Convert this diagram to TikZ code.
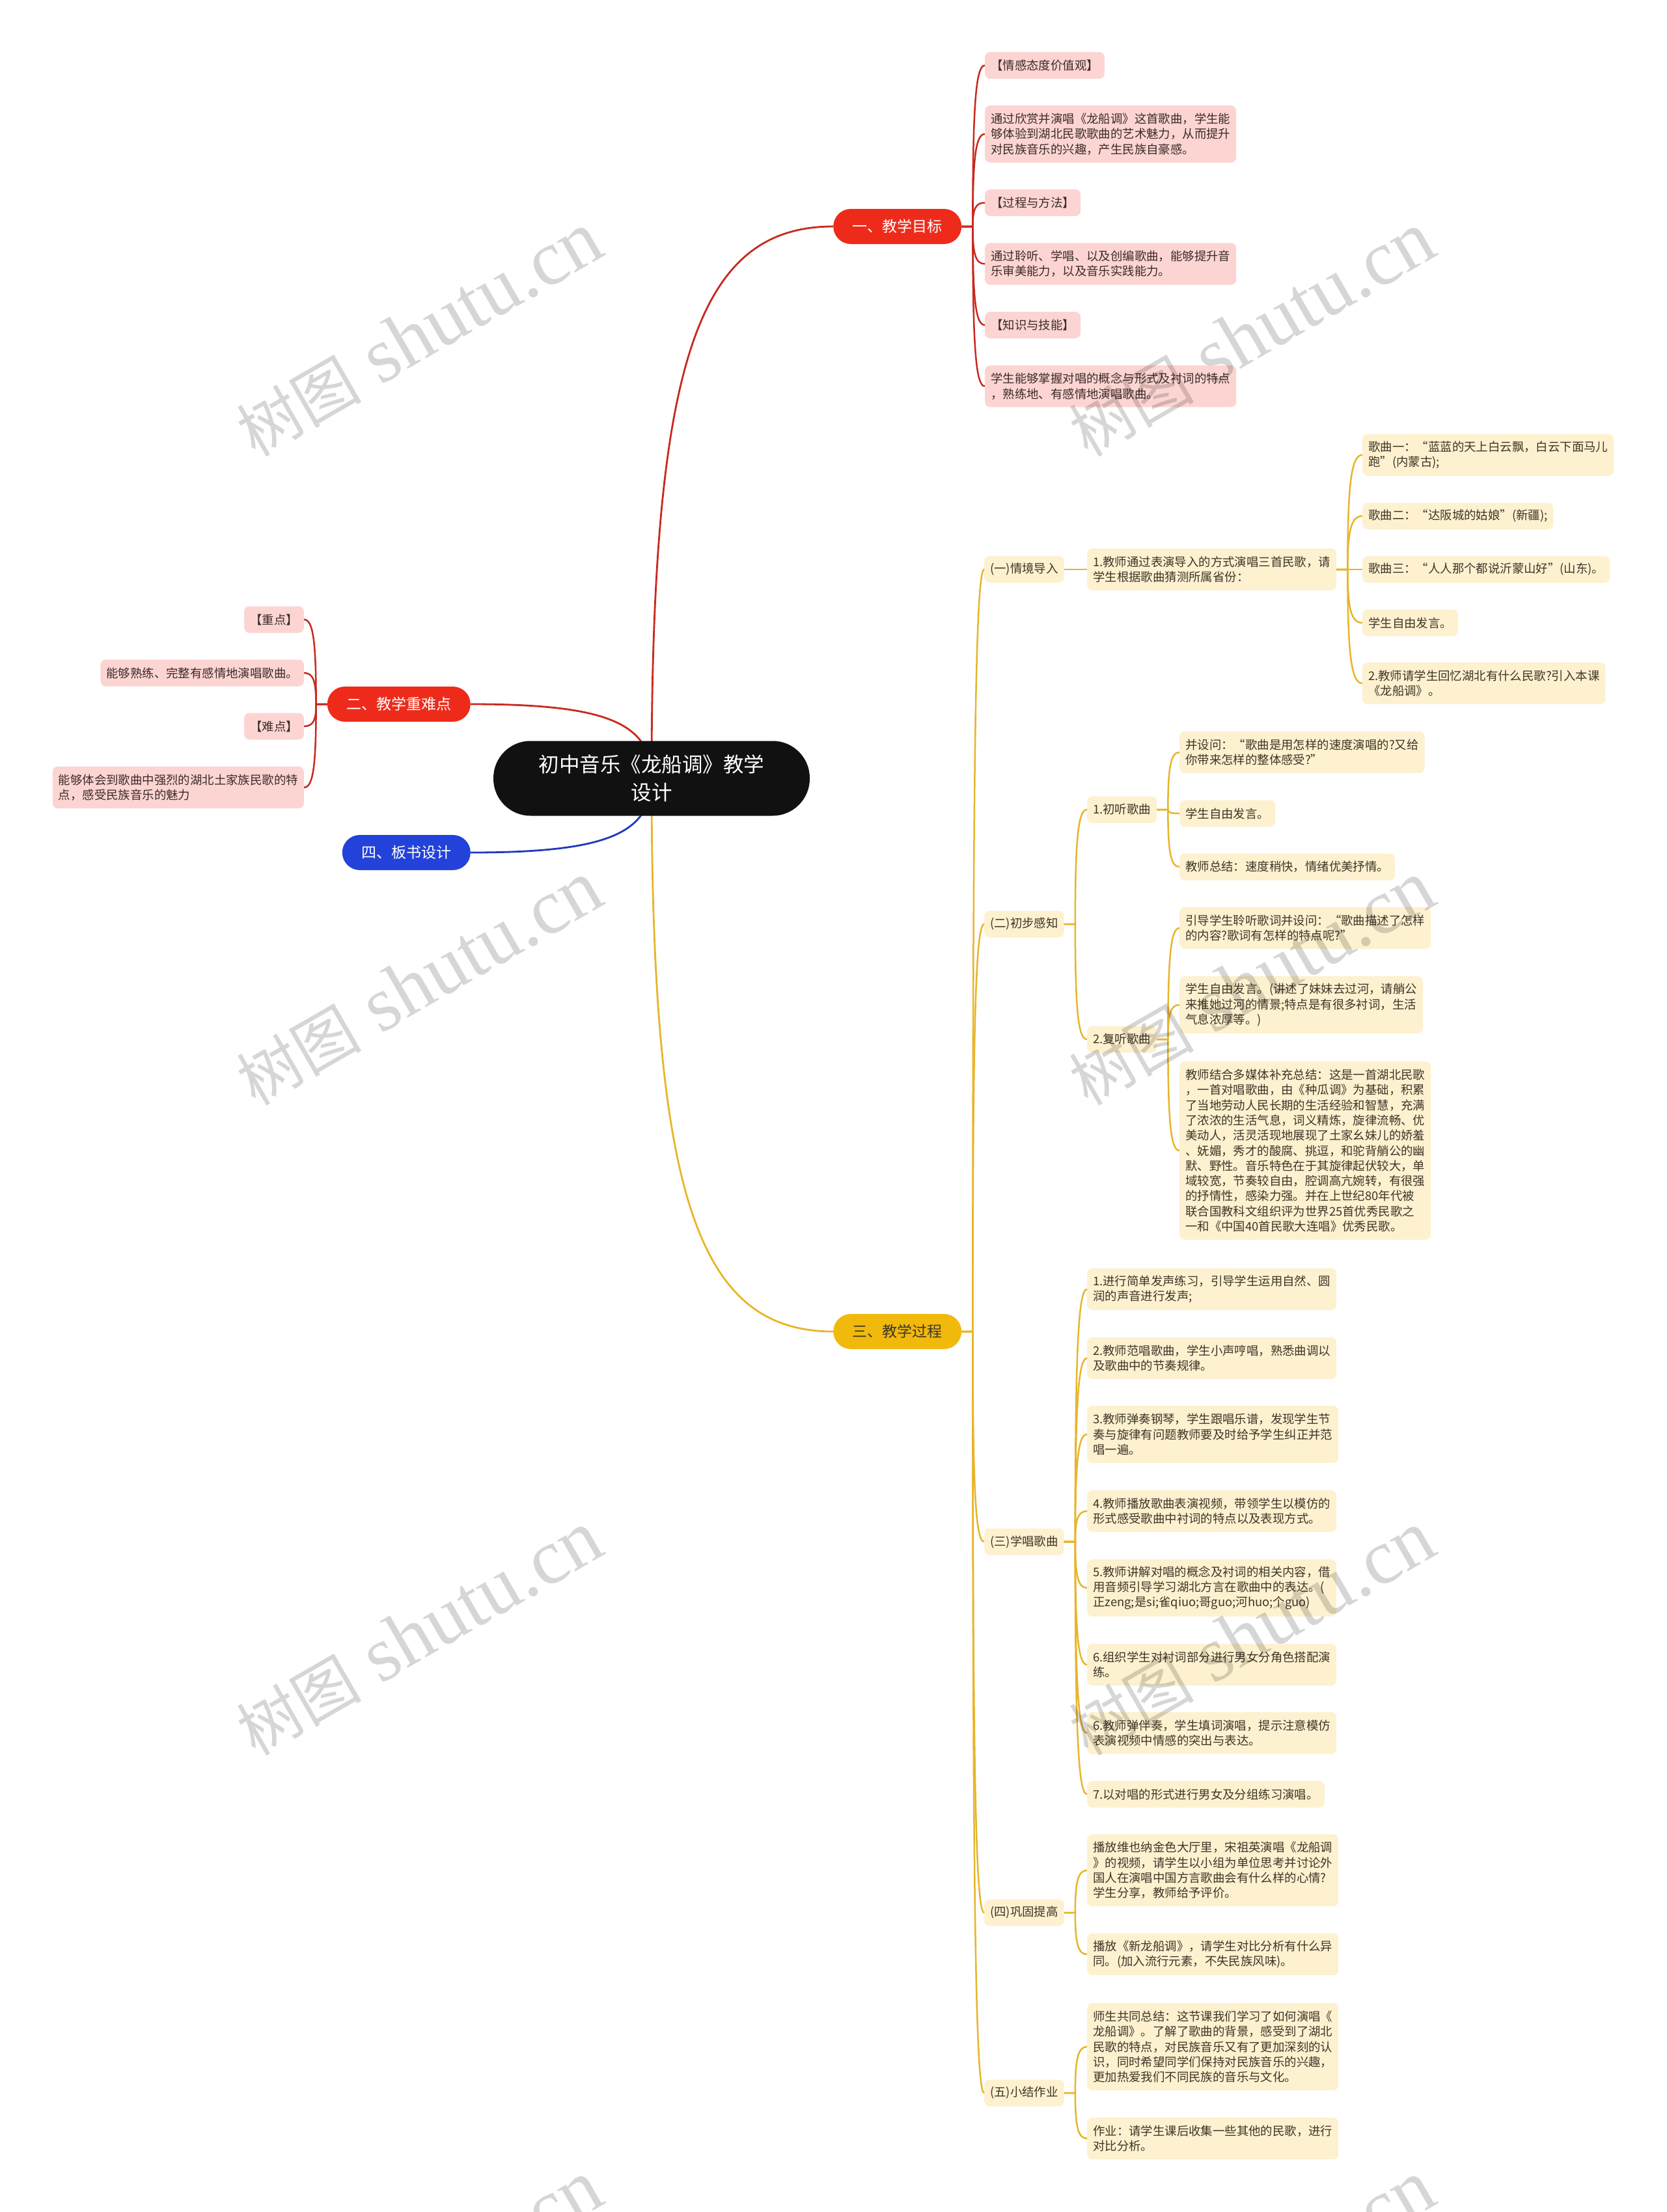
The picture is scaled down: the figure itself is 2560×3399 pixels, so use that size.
\documentclass[tikz,border=0pt]{standalone}
\usepackage{fontspec}
\newfontfamily\cjk{Noto Sans CJK SC}
\newfontfamily\wmlat{Liberation Serif}
\usetikzlibrary{calc,backgrounds}
\definecolor{redM}{HTML}{EE2B1B}
\definecolor{redE}{HTML}{C9291E}
\definecolor{pinkF}{HTML}{FCD5D2}
\definecolor{pinkT}{HTML}{3B2A2A}
\definecolor{yelM}{HTML}{F1B90C}
\definecolor{yelE}{HTML}{E8B52A}
\definecolor{yelF}{HTML}{FDF1D0}
\definecolor{yelT}{HTML}{3E3526}
\definecolor{bluM}{HTML}{2342D9}
\definecolor{bluE}{HTML}{2038BE}
\definecolor{rootC}{HTML}{111111}
\newcommand\mmR[3]{\draw[#1,line width=2.5pt] let \p1=(#2.east), \p2=(#3.west) in (\p1) -- (\x1+17pt,\y1) .. controls (\x1+17pt,{0.25*\y1+0.75*\y2}) and ({0.75*\x1+12.75pt+0.25*\x2},\y2) .. (\p2);}
\newcommand\mmL[3]{\draw[#1,line width=2.5pt] let \p1=(#2.west), \p2=(#3.east) in (\p1) -- (\x1-17pt,\y1) .. controls (\x1-17pt,{0.25*\y1+0.75*\y2}) and ({0.75*\x1-12.75pt+0.25*\x2},\y2) .. (\p2);}
\newcommand\mmO[3]{\draw[#1,line width=2.8pt] let \p1=(#2.center), \p2=(#3) in (\p1) .. controls (\x1,{0.25*\y1+0.75*\y2}) and ({0.75*\x1+0.25*\x2},\y2) .. (\p2);}
\begin{document}
\begin{tikzpicture}[x=1pt,y=-1pt,
  base/.style={font=\cjk\fontsize{18.4}{23.3}\selectfont, align=left, inner xsep=9pt, inner ysep=3pt, rounded corners=8pt, anchor=west, minimum height=41pt},
  pk/.style={base, fill=pinkF, text=pinkT},
  yl/.style={base, fill=yelF, text=yelT},
  l2/.style={minimum height=64.3pt},
  l3/.style={minimum height=87.6pt},
  l4/.style={minimum height=110.9pt},
  l5/.style={minimum height=134.2pt},
  l11/.style={minimum height=274pt},
  mainn/.style={font=\cjk\fontsize{23}{28}\selectfont, minimum height=54pt, inner xsep=29.5pt, inner ysep=0pt, rounded corners=27pt},
  rootn/.style={font=\cjk\fontsize{31.5}{43}\selectfont, fill=rootC, text=white, minimum width=486pt, minimum height=115pt, rounded corners=57pt, align=center, inner sep=0pt},
  wm/.style={rotate=30, text=black, opacity=0.16, inner sep=0pt, font=\wmlat\fontsize{120}{120}\selectfont}
]
\path[use as bounding box] (0,0) rectangle (2560,3399);

% root and main branches
\node[rootn] (root) at (1001,1196) {初中音乐《龙船调》教学\\设计};
\node[mainn, fill=redM, text=white, anchor=west] (m1) at (1280,348) {一、教学目标};
\node[mainn, fill=redM, text=white, anchor=east] (m2) at (723,1082) {二、教学重难点};
\node[mainn, fill=yelM, text=yelT, anchor=west] (m3) at (1280,2046) {三、教学过程};
\node[mainn, fill=bluM, text=white, anchor=east] (m4) at (723,1310) {四、板书设计};

% branch one
\node[pk] (a1) at (1513,100.5) {【情感态度价值观】};
\node[pk,l3] (a2) at (1513,206) {通过欣赏并演唱《龙船调》这首歌曲，学生能\\够体验到湖北民歌歌曲的艺术魅力，从而提升\\对民族音乐的兴趣，产生民族自豪感。};
\node[pk] (a3) at (1513,311.5) {【过程与方法】};
\node[pk,l2] (a4) at (1513,405.5) {通过聆听、学唱、以及创编歌曲，能够提升音\\乐审美能力，以及音乐实践能力。};
\node[pk] (a5) at (1513,499.5) {【知识与技能】};
\node[pk,l2] (a6) at (1513,593.5) {学生能够掌握对唱的概念与形式及衬词的特点\\，熟练地、有感情地演唱歌曲。};

% branch two
\node[pk,anchor=east] (b1) at (467,952) {【重点】};
\node[pk,anchor=east] (b2) at (467,1034) {能够熟练、完整有感情地演唱歌曲。};
\node[pk,anchor=east] (b3) at (467,1116) {【难点】};
\node[pk,anchor=east,l2] (b4) at (467,1210) {能够体会到歌曲中强烈的湖北土家族民歌的特\\点，感受民族音乐的魅力};

% branch three, level 2
\node[yl] (p1) at (1512,875) {(一)情境导入};
\node[yl] (p2) at (1512,1420) {(二)初步感知};
\node[yl] (p3) at (1512,2369) {(三)学唱歌曲};
\node[yl] (p4) at (1512,2939) {(四)巩固提高};
\node[yl] (p5) at (1512,3216) {(五)小结作业};

% (一)
\node[yl,l2] (c1) at (1670,875) {1.教师通过表演导入的方式演唱三首民歌，请\\学生根据歌曲猜测所属省份：};
\node[yl,l2] (s1) at (2093,699) {歌曲一：“蓝蓝的天上白云飘，白云下面马儿\\跑”(内蒙古);};
\node[yl] (s2) at (2093,793) {歌曲二：“达阪城的姑娘”(新疆);};
\node[yl] (s3) at (2093,875) {歌曲三：“人人那个都说沂蒙山好”(山东)。};
\node[yl] (s4) at (2093,957) {学生自由发言。};
\node[yl,l2] (s5) at (2093,1050) {2.教师请学生回忆湖北有什么民歌?引入本课\\《龙船调》。};

% (二)
\node[yl] (c2) at (1670,1244) {1.初听歌曲};
\node[yl] (c3) at (1670,1597) {2.复听歌曲};
\node[yl,l2] (g1) at (1812,1156) {并设问：“歌曲是用怎样的速度演唱的?又给\\你带来怎样的整体感受?”};
\node[yl] (g2) at (1812,1250) {学生自由发言。};
\node[yl] (g3) at (1812,1332) {教师总结：速度稍快，情绪优美抒情。};
\node[yl,l2] (h1) at (1812,1426) {引导学生聆听歌词并设问：“歌曲描述了怎样\\的内容?歌词有怎样的特点呢?”};
\node[yl,l3] (h2) at (1812,1544) {学生自由发言。(讲述了妹妹去过河，请艄公\\来推她过河的情景;特点是有很多衬词，生活\\气息浓厚等。)};
\node[yl,l11] (h3) at (1812,1768) {教师结合多媒体补充总结：这是一首湖北民歌\\，一首对唱歌曲，由《种瓜调》为基础，积累\\了当地劳动人民长期的生活经验和智慧，充满\\了浓浓的生活气息，词义精炼，旋律流畅、优\\美动人，活灵活现地展现了土家幺妹儿的娇羞\\、妩媚，秀才的酸腐、挑逗，和驼背艄公的幽\\默、野性。音乐特色在于其旋律起伏较大，单\\域较宽，节奏较自由，腔调高亢婉转，有很强\\的抒情性，感染力强。并在上世纪80年代被\\联合国教科文组织评为世界25首优秀民歌之\\一和《中国40首民歌大连唱》优秀民歌。};

% (三)
\node[yl,l2] (d1) at (1670,1981) {1.进行简单发声练习，引导学生运用自然、圆\\润的声音进行发声;};
\node[yl,l2] (d2) at (1670,2087) {2.教师范唱歌曲，学生小声哼唱，熟悉曲调以\\及歌曲中的节奏规律。};
\node[yl,l3] (d3) at (1670,2204) {3.教师弹奏钢琴，学生跟唱乐谱，发现学生节\\奏与旋律有问题教师要及时给予学生纠正并范\\唱一遍。};
\node[yl,l2] (d4) at (1670,2322) {4.教师播放歌曲表演视频，带领学生以模仿的\\形式感受歌曲中衬词的特点以及表现方式。};
\node[yl,l3] (d5) at (1670,2440) {5.教师讲解对唱的概念及衬词的相关内容，借\\用音频引导学习湖北方言在歌曲中的表达。(\\正zeng;是si;雀qiuo;哥guo;河huo;个guo)};
\node[yl,l2] (d6) at (1670,2558) {6.组织学生对衬词部分进行男女分角色搭配演\\练。};
\node[yl,l2] (d7) at (1670,2663) {6.教师弹伴奏，学生填词演唱，提示注意模仿\\表演视频中情感的突出与表达。};
\node[yl] (d8) at (1670,2757) {7.以对唱的形式进行男女及分组练习演唱。};

% (四)
\node[yl,l4] (e1) at (1670,2874) {播放维也纳金色大厅里，宋祖英演唱《龙船调\\》的视频，请学生以小组为单位思考并讨论外\\国人在演唱中国方言歌曲会有什么样的心情?\\学生分享，教师给予评价。};
\node[yl,l2] (e2) at (1670,3003) {播放《新龙船调》，请学生对比分析有什么异\\同。(加入流行元素，不失民族风味)。};

% (五)
\node[yl,l5] (f1) at (1670,3145) {师生共同总结：这节课我们学习了如何演唱《\\龙船调》。了解了歌曲的背景，感受到了湖北\\民歌的特点，对民族音乐又有了更加深刻的认\\识，同时希望同学们保持对民族音乐的兴趣，\\更加热爱我们不同民族的音乐与文化。};
\node[yl,l2] (f2) at (1670,3286) {作业：请学生课后收集一些其他的民歌，进行\\对比分析。};

% root connectors behind the root
\begin{scope}[on background layer]
\fill[white] (0,0) rectangle (2560,3399);
\mmO{redE}{root}{m1.west}
\mmO{redE}{root}{m2.east}
\mmO{yelE}{root}{m3.west}
\mmO{bluE}{root}{m4.east}
\end{scope}

% connectors
\mmR{redE}{m1}{a1}
\mmR{redE}{m1}{a2}
\mmR{redE}{m1}{a3}
\mmR{redE}{m1}{a4}
\mmR{redE}{m1}{a5}
\mmR{redE}{m1}{a6}
\mmL{redE}{m2}{b1}
\mmL{redE}{m2}{b2}
\mmL{redE}{m2}{b3}
\mmL{redE}{m2}{b4}
\mmR{yelE}{m3}{p1}
\mmR{yelE}{m3}{p2}
\mmR{yelE}{m3}{p3}
\mmR{yelE}{m3}{p4}
\mmR{yelE}{m3}{p5}
\mmR{yelE}{p1}{c1}
\mmR{yelE}{c1}{s1}
\mmR{yelE}{c1}{s2}
\mmR{yelE}{c1}{s3}
\mmR{yelE}{c1}{s4}
\mmR{yelE}{c1}{s5}
\mmR{yelE}{p2}{c2}
\mmR{yelE}{p2}{c3}
\mmR{yelE}{c2}{g1}
\mmR{yelE}{c2}{g2}
\mmR{yelE}{c2}{g3}
\mmR{yelE}{c3}{h1}
\mmR{yelE}{c3}{h2}
\mmR{yelE}{c3}{h3}
\mmR{yelE}{p3}{d1}
\mmR{yelE}{p3}{d2}
\mmR{yelE}{p3}{d3}
\mmR{yelE}{p3}{d4}
\mmR{yelE}{p3}{d5}
\mmR{yelE}{p3}{d6}
\mmR{yelE}{p3}{d7}
\mmR{yelE}{p3}{d8}
\mmR{yelE}{p4}{e1}
\mmR{yelE}{p4}{e2}
\mmR{yelE}{p5}{f1}
\mmR{yelE}{p5}{f2}

% watermarks
\foreach \wx/\wy [count=\wi] in {644/514,1923/514,644/1511,1923/1511,644/2510,1923/2510,644/3508,1923/3508}
  \node[wm] (wm\wi) at (\wx,\wy) {{\cjk\fontsize{96}{96}\selectfont 树图} shutu.cn};
\end{tikzpicture}
\end{document}
